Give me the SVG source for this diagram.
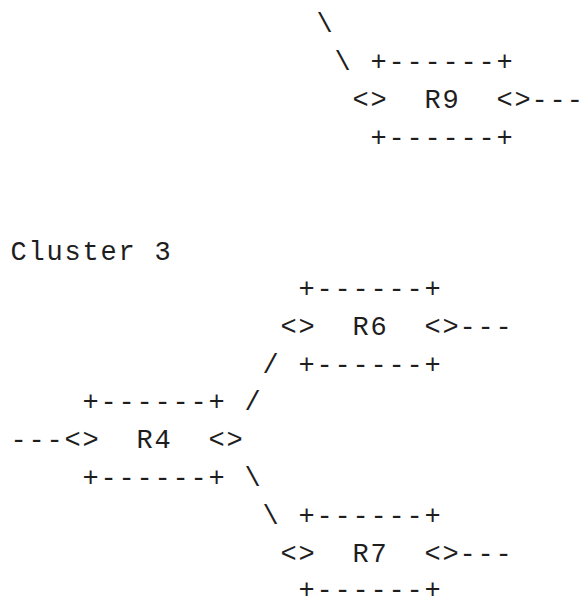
<svg xmlns="http://www.w3.org/2000/svg" width="584" height="599" viewBox="0 0 584 599">
<style>
text{font-family:"Liberation Mono","DejaVu Sans Mono",monospace;font-size:27px;letter-spacing:1.8px;fill:#1e1e1e;white-space:pre}
text.e{letter-spacing:0}
</style>
<rect width="584" height="599" fill="#fff"/>
<g id="connectors">
<text x="316.4" y="32.4">\</text>
<text x="334.4" y="70.2">\</text>
<text class="e" x="531.4 549.4 566.8" y="108">---</text>
<text class="e" x="459.4 477.4 495.4" y="334.8">---</text>
<text x="262.4" y="372.6">/</text>
<text x="244.4" y="410.4">/</text>
<text x="10.4" y="448.2">---</text>
<text x="244.4" y="486">\</text>
<text x="262.4" y="523.8">\</text>
<text class="e" x="459.4 477.4 495.4" y="561.6">---</text>
</g>
<g id="R9">
<text x="370.4" y="70.2">+------+</text>
<text x="352.4" y="108">&lt;&gt;  R9  &lt;&gt;</text>
<text x="370.4" y="145.8">+------+</text>
</g>
<g id="cluster3">
<text x="10.4" y="259.6">Cluster 3</text>
</g>
<g id="R6">
<text x="298.4" y="297">+------+</text>
<text x="280.4" y="334.8">&lt;&gt;  R6  &lt;&gt;</text>
<text x="298.4" y="372.6">+------+</text>
</g>
<g id="R4">
<text x="82.4" y="410.4">+------+</text>
<text x="64.4" y="448.2">&lt;&gt;  R4  &lt;&gt;</text>
<text x="82.4" y="486">+------+</text>
</g>
<g id="R7">
<text x="298.4" y="523.8">+------+</text>
<text x="280.4" y="561.6">&lt;&gt;  R7  &lt;&gt;</text>
<text x="298.4" y="597.5">+------+</text>
</g>
</svg>
